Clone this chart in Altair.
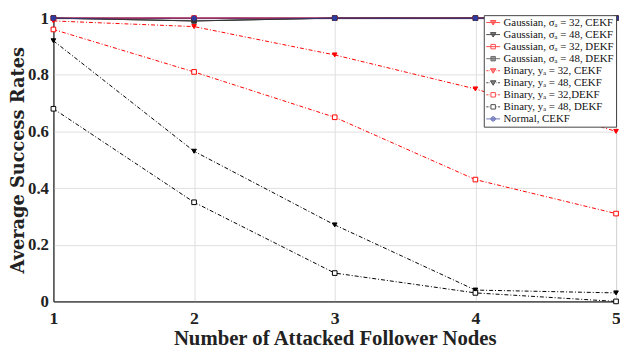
import altair as alt
import pandas as pd

x_nodes = [1, 2, 3, 4, 5]

series_names = [
    "Gaussian, σₐ = 32, CEKF",
    "Gaussian, σₐ = 48, CEKF",
    "Gaussian, σₐ = 32, DEKF",
    "Gaussian, σₐ = 48, DEKF",
    "Binary, yₐ = 32, CEKF",
    "Binary, yₐ = 48, CEKF",
    "Binary, yₐ = 32,DEKF",
    "Binary, yₐ = 48, DEKF",
    "Normal, CEKF",
]

gauss32_cekf = [1.00, 1.00, 1.00, 1.00, 1.00]
gauss48_cekf = [1.00, 0.99, 1.00, 1.00, 1.00]
gauss32_dekf = [1.00, 1.00, 1.00, 1.00, 1.00]
gauss48_dekf = [1.00, 0.99, 1.00, 1.00, 1.00]
bin32_cekf = [0.99, 0.97, 0.87, 0.75, 0.60]
bin48_cekf = [0.92, 0.53, 0.27, 0.04, 0.03]
bin32_dekf = [0.96, 0.81, 0.65, 0.43, 0.31]
bin48_dekf = [0.68, 0.35, 0.10, 0.03, 0.00]
normal_cekf = [1.00, 1.00, 1.00, 1.00, 1.00]

all_values = [gauss32_cekf, gauss48_cekf, gauss32_dekf, gauss48_dekf,
              bin32_cekf, bin48_cekf, bin32_dekf, bin48_dekf, normal_cekf]

colors = ["#ff0000", "#000000", "#ff0000", "#333333",
          "#ff0000", "#000000", "#ff0000", "#000000", "#2e3a9e"]
dashes = [[1, 0], [1, 0], [1, 0], [1, 0],
          [4, 2, 1, 2], [4, 2, 1, 2], [4, 2, 1, 2], [4, 2, 1, 2], [1, 0]]
marker_shapes = ["triangle-down", "triangle-down", "square", "square",
                 "triangle-down", "triangle-down", "square", "square", "circle"]
fills = ["#ff0000", "#000000", "#ffffff", "#333333",
         "#ff0000", "#000000", "#ffffff", "#ffffff", "#2e3a9e"]

# legend symbols: a short line (solid or dash-dot) with the marker in the middle
solid_line = "M-1.4,0H1.4"
dashdot_line = "M-1.4,0H-0.95M-0.75,0H-0.65M0.65,0H0.75M0.95,0H1.4"
tri = "M-0.55,-0.4L0.55,-0.4L0,0.5Z"
sq = "M-0.45,-0.45H0.45V0.45H-0.45Z"
circ = "M-0.45,0A0.45,0.45 0 1,0 0.45,0A0.45,0.45 0 1,0 -0.45,0Z"
legend_paths = [
    solid_line + tri, solid_line + tri, solid_line + sq, solid_line + sq,
    dashdot_line + tri, dashdot_line + tri, dashdot_line + sq, dashdot_line + sq,
    solid_line + circ,
]

rows = []
for name, vals in zip(series_names, all_values):
    for xv, yv in zip(x_nodes, vals):
        rows.append({"x": xv, "y": yv, "series": name})
df = pd.DataFrame(rows)

FONT = "Liberation Serif"

x_enc = alt.X("x:Q", scale=alt.Scale(domain=[1, 5], nice=False),
              axis=alt.Axis(values=x_nodes, format="d", labelFlush=False,
                            title="Number of Attacked Follower Nodes"))
y_enc = alt.Y("y:Q", scale=alt.Scale(domain=[0, 1], nice=False),
              axis=alt.Axis(values=[0, 0.2, 0.4, 0.6, 0.8, 1.0], format="~g",
                            labelFlush=False, title="Average Success Rates"))

base = alt.Chart(df).encode(x=x_enc, y=y_enc)

lines = base.mark_line(strokeWidth=1).encode(
    color=alt.Color("series:N", scale=alt.Scale(domain=series_names, range=colors), legend=None),
    strokeDash=alt.StrokeDash("series:N", scale=alt.Scale(domain=series_names, range=dashes), legend=None),
    detail="series:N",
)

points = base.mark_point(size=22, strokeWidth=1, opacity=1).encode(
    color=alt.Color("series:N", scale=alt.Scale(domain=series_names, range=colors), legend=None),
    shape=alt.Shape("series:N", scale=alt.Scale(domain=series_names, range=marker_shapes), legend=None),
    fill=alt.Fill("series:N", scale=alt.Scale(domain=series_names, range=fills), legend=None),
)

legend_def = alt.Legend(
    title=None, orient="none", legendX=436, legendY=-3,
    labelFont=FONT, labelFontSize=11, labelColor="#111",
    symbolSize=100, symbolStrokeWidth=1, labelOffset=5,
    rowPadding=0.2, padding=2, strokeColor="#444", fillColor="#ffffff",
    symbolOffset=2, labelLimit=200,
)

legend_layer = base.mark_point(strokeWidth=1).encode(
    color=alt.Color("series:N", scale=alt.Scale(domain=series_names, range=colors), legend=legend_def),
    shape=alt.Shape("series:N", scale=alt.Scale(domain=series_names, range=legend_paths), legend=legend_def),
    fill=alt.Fill("series:N", scale=alt.Scale(domain=series_names, range=fills), legend=legend_def),
).transform_filter(alt.datum.x < 0)

chart = alt.layer(lines, points, legend_layer).resolve_scale(
    color="independent", shape="independent", fill="independent", strokeDash="independent"
).properties(
    width=570, height=287,
    autosize=alt.AutoSizeParams(type="none"),
    padding={"left": 46, "top": 8, "right": 4, "bottom": 48},
).configure_view(
    stroke="#222", strokeWidth=1
).configure_axis(
    labelFont=FONT, titleFont=FONT, labelFontWeight="bold", titleFontWeight="bold",
    labelColor="#222", titleColor="#222",
    gridColor="#dedede", gridWidth=1, domainColor="#222",
    ticks=False,
).configure_axisX(
    labelFontSize=18, titleFontSize=21, titlePadding=1, labelPadding=8,
).configure_axisY(
    labelFontSize=17, titleFontSize=18, titleFont="DejaVu Serif", titlePadding=0,
    labelPadding=5,
)

chart.save("out.html", embed_options={"renderer": "svg", "actions": False})
